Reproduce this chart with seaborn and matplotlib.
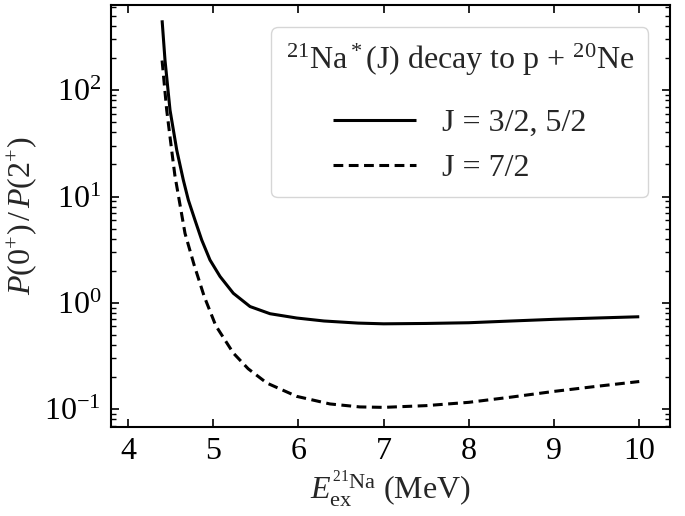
import numpy as np
import pandas as pd
import matplotlib
matplotlib.use("Agg")
import matplotlib.pyplot as plt
import seaborn as sns

# values (log scale)
e_solid = [4.40, 4.434, 4.493, 4.572, 4.649, 4.708, 4.786, 4.865, 4.962, 5.08,
           5.236, 5.432, 5.667, 5.98, 6.30, 6.70, 7.00, 7.50, 8.00, 8.50,
           9.00, 9.50, 10.00]
r_solid = [454, 192, 65, 27.3, 14.3, 9.27, 6.0, 3.9, 2.53, 1.77,
           1.23, 0.923, 0.79, 0.72, 0.675, 0.645, 0.635, 0.64, 0.65, 0.675,
           0.70, 0.72, 0.74]

e_dash = [4.40, 4.454, 4.513, 4.55, 4.669, 4.776, 4.894, 5.03, 5.236, 5.41,
          5.63, 5.98, 6.37, 6.72, 7.00, 7.50, 8.00, 8.50, 9.00, 9.50, 10.00]
r_dash = [190, 65, 27, 15.8, 4.5, 2.27, 1.15, 0.61, 0.337, 0.24,
          0.176, 0.132, 0.112, 0.105, 0.104, 0.108, 0.116, 0.13, 0.147, 0.164, 0.182]

labels = ["J = 3/2, 5/2", "J = 7/2"]

df = pd.concat([
    pd.DataFrame({"E": e_solid, "ratio": r_solid, "J": labels[0]}),
    pd.DataFrame({"E": e_dash, "ratio": r_dash, "J": labels[1]}),
])

sns.set_style("ticks")
plt.rcParams["font.family"] = ["Liberation Serif", "DejaVu Serif"]
plt.rcParams["mathtext.fontset"] = "custom"
plt.rcParams["mathtext.rm"] = "Liberation Serif"
plt.rcParams["mathtext.it"] = "Liberation Serif:italic"
plt.rcParams["mathtext.bf"] = "Liberation Serif:bold"

fs = 23

fig = plt.figure(figsize=(6.85, 5.16), dpi=100)
ax = fig.add_axes([0.162, 0.1725, 0.816, 0.8175])

sns.lineplot(data=df, x="E", y="ratio", hue="J", style="J",
             palette=["black", "black"], dashes=[(1, 0), (3.2, 1.8)],
             linewidth=2.2, ax=ax)

ax.set_yscale("log")
ax.set_xlim(3.8, 10.36)
ax.set_ylim(0.068, 630)
ax.set_xticks([4, 5, 6, 7, 8, 9, 10])

ax.tick_params(which="both", direction="in", top=True, right=True,
               labelsize=fs, pad=7, colors="black")
ax.tick_params(which="major", length=6, width=1.2)
ax.tick_params(which="minor", length=3.5, width=1)
for s in ax.spines.values():
    s.set_linewidth(1.5)
    s.set_color("black")

ax.set_xlabel(r"$E_{\rm ex}^{^{21}\rm Na}$ (MeV)", fontsize=fs, labelpad=2)
ax.set_ylabel(r"$P(0^{+})\,/\,P(2^{+})$", fontsize=fs, labelpad=4)

leg = ax.legend(title=r"$^{21}$Na$^*$(J) decay to p + $^{20}$Ne",
                fontsize=fs, title_fontsize=fs, loc="upper right",
                bbox_to_anchor=(0.99, 0.985),
                handlelength=2.6, handletextpad=0.8, borderpad=0.45,
                labelspacing=0.5, fancybox=True, frameon=True)
leg.get_frame().set_edgecolor("#cccccc")
# a bit more room between the title and the entries
leg._legend_box.sep = 0.95 * fs

fig.savefig("out.png", dpi=100)
